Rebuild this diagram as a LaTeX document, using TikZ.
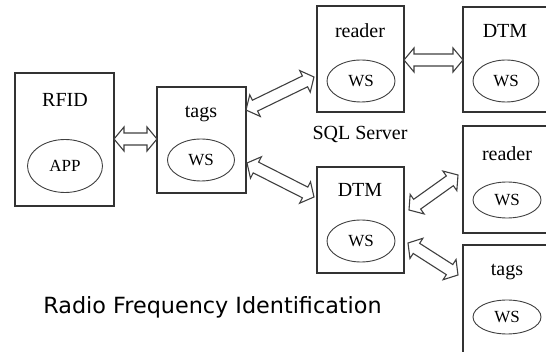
\documentclass[tikz,border=0pt]{standalone}
\usepackage{fontspec}
\setmainfont{Liberation Serif}
\newfontfamily\serf{Liberation Serif}
\newfontfamily\titlefont{DejaVu Sans}
\usetikzlibrary{calc,shapes.geometric}
\tikzset{
  box/.style={draw=black!80, line width=1.2pt},
  ttl/.style={anchor=base, inner sep=0pt, font=\serf\fontsize{20}{23}\selectfont},
  ell/.style={draw=black!75, line width=0.9pt, ellipse, inner sep=0pt, font=\serf\fontsize{17}{19}\selectfont},
  arr/.style={draw=black!75, line width=1.1pt, fill=white, line join=miter},
}
\newcommand\dblarr[2]{%
  \path[arr] let \p1=(#1),\p2=(#2),\n1={atan2(\y2-\y1,\x2-\x1)},\n2={veclen(\x2-\x1,\y2-\y1)} in
   [shift={(\p1)},rotate=\n1]
   (0,0) -- (10,12) -- (10,6) -- (\n2-10,6) -- (\n2-10,12) -- (\n2,0) -- (\n2-10,-12) -- (\n2-10,-6) -- (10,-6) -- (10,-12) -- cycle;}
\begin{document}
\begin{tikzpicture}[x=1pt,y=-1pt]
\useasboundingbox[fill=white] (0,0) rectangle (546,352);
\clip (0,0) rectangle (546,352);
% boxes
\draw[box] (15,73) rectangle (114,206);
\draw[box] (157,87) rectangle (246,193);
\draw[box] (317,6) rectangle (404,112);
\draw[box] (463,7) rectangle (560,112);
\draw[box] (463,126) rectangle (560,233);
\draw[box] (317,167) rectangle (404,273);
\draw[box] (463,245) rectangle (560,370);
% titles
\node[ttl] (t1) at (65,107) {RFID};
\node[ttl] (t2) at (201,118) {tags};
\node[ttl] (t3) at (360,38) {reader};
\node[ttl] (t4) at (505,38) {DTM};
\node[ttl] (t5) at (360,140) {SQL Server};
\node[ttl] (t6) at (507,161) {reader};
\node[ttl] (t7) at (360,197) {DTM};
\node[ttl] (t8) at (507,276) {tags};
% ellipses
\node[ell, minimum width=75pt, minimum height=53pt] (e1) at (65,166) {APP};
\node[ell, minimum width=67pt, minimum height=42pt] (e2) at (201,160) {WS};
\node[ell, minimum width=68pt, minimum height=42pt] (e3) at (361,81) {WS};
\node[ell, minimum width=66pt, minimum height=42pt] (e4) at (506,81) {WS};
\node[ell, minimum width=68pt, minimum height=36pt] (e5) at (507,200) {WS};
\node[ell, minimum width=68pt, minimum height=42pt] (e6) at (361,241) {WS};
\node[ell, minimum width=68pt, minimum height=34pt] (e7) at (507,317) {WS};
% arrow endpoints
\coordinate (a1) at (114,139);
\coordinate (a2) at (157,139);
\coordinate (b1) at (246,110);
\coordinate (b2) at (314,77);
\coordinate (c1) at (247,163);
\coordinate (c2) at (314,197);
\coordinate (d1) at (404,60);
\coordinate (d2) at (463,60);
\coordinate (f1) at (409,210);
\coordinate (f2) at (458,175);
\coordinate (g1) at (408,243);
\coordinate (g2) at (458,275);
\dblarr{a1}{a2}
\dblarr{b1}{b2}
\dblarr{c1}{c2}
\dblarr{d1}{d2}
\dblarr{f1}{f2}
\dblarr{g1}{g2}
% caption
\node[font=\titlefont\fontsize{22.3}{26}\selectfont, anchor=base, inner sep=0pt] (cap) at (212.5,314) {Radio Frequency Identification};
\end{tikzpicture}
\end{document}
